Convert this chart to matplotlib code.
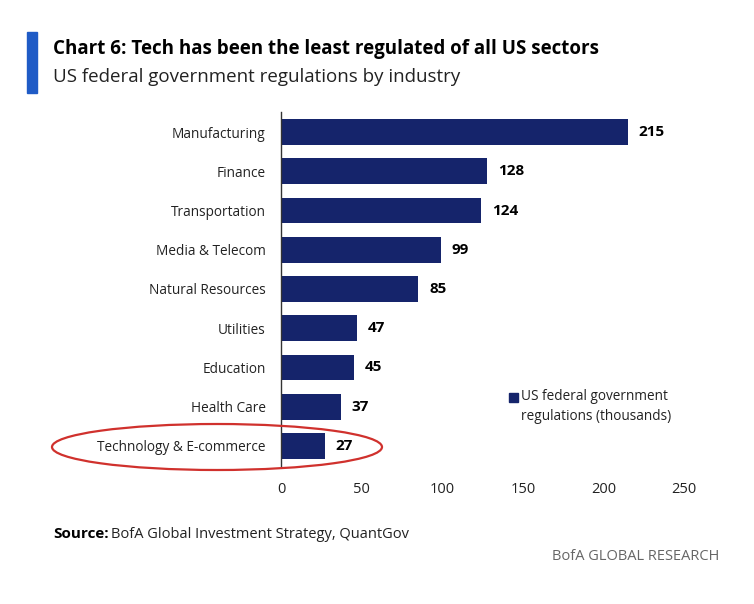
import matplotlib
matplotlib.use("Agg")
from matplotlib import pyplot as plt
from matplotlib.patches import Ellipse, Rectangle

plt.rcParams['font.family'] = ['Open Sans', 'DejaVu Sans']

# data (thousands of regulations)
industries = ['Manufacturing', 'Finance', 'Transportation', 'Media & Telecom',
              'Natural Resources', 'Utilities', 'Education', 'Health Care',
              'Technology & E-commerce']
regulations = [215, 128, 124, 99, 85, 47, 45, 37, 27]
x_ticks = [0, 50, 100, 150, 200, 250]

navy = '#15246b'
W, H = 754, 604

fig = plt.figure(figsize=(W / 100, H / 100), dpi=100)
ax = fig.add_axes([281 / W, 1 - 465.6 / H, (684 - 281) / W, (465.6 - 112.4) / H])

pos = list(range(len(industries)))
ax.barh(pos, regulations, height=0.66, color=navy)
ax.set_ylim(len(industries) - 0.5, -0.5)
ax.set_xlim(0, 250)
ax.set_yticks(pos)
ax.set_yticklabels(industries, fontsize=9.8, color='#222222')
ax.set_xticks(x_ticks)
ax.set_xticklabels([str(t) for t in x_ticks], fontsize=10.5, color='#222222')
ax.tick_params(axis='both', length=0)
ax.tick_params(axis='y', pad=11)
ax.tick_params(axis='x', pad=12)
for s in ['top', 'right', 'bottom']:
    ax.spines[s].set_visible(False)
ax.spines['left'].set_color('#333333')
ax.spines['left'].set_linewidth(1.0)

for p, v in zip(pos, regulations):
    ax.annotate(str(v), (v, p), xytext=(8, 0), textcoords='offset points',
                va='center', ha='left', fontsize=11, fontweight='bold', color='black')

# legend
fig.patches.append(Rectangle((509 / W, 1 - 402 / H), 9 / W, 9 / H,
                             transform=fig.transFigure, color=navy))
fig.text(521 / W, 1 - 397 / H, 'US federal government', fontsize=9.8,
         va='center', ha='left', color='#222222')
fig.text(521 / W, 1 - 417 / H, 'regulations (thousands)', fontsize=9.8,
         va='center', ha='left', color='#222222')

# red ring round the tech row
fig.patches.append(Ellipse((217 / W, 1 - 447 / H), 330 / W, 46 / H,
                           transform=fig.transFigure, fill=False,
                           edgecolor='#d0312d', linewidth=1.6))

# header
fig.patches.append(Rectangle((27 / W, 1 - 93 / H), 10 / W, 61 / H,
                             transform=fig.transFigure, color='#1f5bc6'))
fig.text(53 / W, 1 - 49 / H, 'Chart 6: Tech has been the least regulated of all US sectors',
         fontsize=13.5, fontweight='bold', va='center', ha='left', color='black')
fig.text(53 / W, 1 - 77 / H, 'US federal government regulations by industry',
         fontsize=13.5, va='center', ha='left', color='#222222')

# footer
fig.text(53 / W, 1 - 534 / H, 'Source:', fontsize=11, fontweight='bold',
         va='center', ha='left', color='black')
fig.text(111 / W, 1 - 534 / H, 'BofA Global Investment Strategy, QuantGov',
         fontsize=10.5, va='center', ha='left', color='#222222')
fig.text(719 / W, 1 - 557 / H, 'BofA GLOBAL RESEARCH', fontsize=10.5,
         va='center', ha='right', color='#666666')

fig.savefig('out.png', dpi=100, facecolor='white')
